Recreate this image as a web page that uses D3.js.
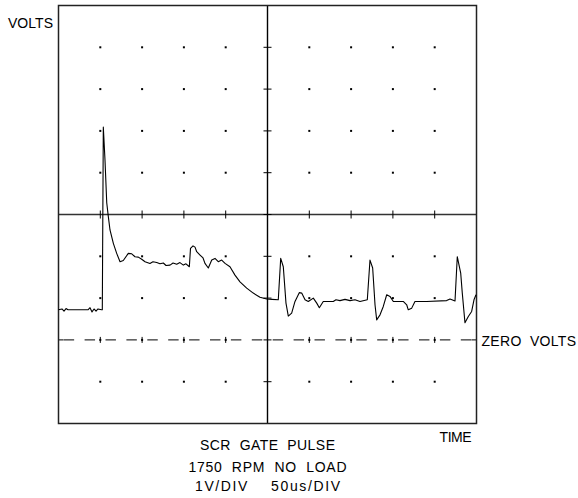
<!DOCTYPE html>
<html><head><meta charset="utf-8">
<script src="https://cdn.jsdelivr.net/npm/d3@7"></script>
<style>
html,body{margin:0;padding:0;background:#fff;}
svg{display:block;}
text{font-family:"Liberation Sans",Arial,sans-serif;fill:#000;white-space:pre;}
</style></head>
<body><svg id="c" width="578" height="498"></svg>
<script>
// Time in microseconds (50 us/div), volts (1 V/div)
const timeUs = [0,4.2,6.6,9.0,11.4,35.3,37.7,40.1,42.5,44.9,47.2,51.4,52.4,53.6,55.6,57.7,59.6,61.6,65.6,69.6,73.6,77.5,83.5,87.6,91.5,95.5,99.5,103.5,109.4,113.0,117.5,121.4,125.4,128.6,133.4,137.0,141.4,145.3,149.3,152.5,156.5,157.9,160.9,163.3,165.3,169.3,172.9,175.2,179.2,183.3,187.2,191.1,195.2,199.2,205.1,211.1,217.1,225.1,233.0,241.0,249.0,255.4,262.9,265.8,268.9,272.1,274.9,278.9,282.9,288.0,290.9,294.9,298.8,304.8,308.9,312.0,316.7,328.7,331.9,336.7,342.7,348.7,354.7,360.6,369.4,372.6,375.8,378.6,380.6,384.6,388.5,392.6,396.5,400.5,412.4,416.5,418.4,422.5,426.4,440.4,464.3,468.3,474.3,477.0,481.1,483.0,486.2,490.2,494.2,497.0,499.4];
const volts = [0.72,0.74,0.69,0.75,0.72,0.72,0.77,0.67,0.74,0.69,0.74,0.72,0.72,5.09,4.31,3.28,2.95,2.63,2.31,2.07,1.87,1.90,2.07,2.06,1.99,1.98,1.93,1.87,1.83,1.87,1.85,1.82,1.84,1.78,1.79,1.84,1.81,1.85,1.79,1.82,1.75,2.19,2.25,2.22,2.11,2.03,1.96,1.83,1.72,1.91,1.95,1.87,1.91,1.83,1.75,1.55,1.39,1.24,1.12,1.02,0.98,0.97,0.96,1.95,1.75,0.88,0.57,0.64,0.92,1.13,1.12,0.96,0.92,1.00,0.88,0.77,0.92,0.92,0.96,0.94,0.97,0.94,0.96,0.92,0.96,1.91,1.72,0.84,0.48,0.60,0.80,1.08,1.04,0.92,0.92,0.84,0.72,0.76,0.92,0.92,0.94,0.98,0.93,1.99,1.60,1.12,0.41,0.56,0.68,0.96,1.08];
const timeDivs = [0,50,100,150,200,250,300,350,400,450,500];
const voltDivs = [-2,-1,0,1,2,3,4,5,6,7,8];
const centerTime = 250, centerVolt = 3, zeroVolt = 0;
const yLabel = "VOLTS", xLabel = "TIME", zeroLabel = "ZERO  VOLTS";
const titleLines = ["SCR  GATE  PULSE","1750  RPM  NO  LOAD","1V/DIV    50us/DIV"];

const svg = d3.select("#c");
const x = d3.scaleLinear().domain([0,500]).range([58.5,476.5]);
const y = d3.scaleLinear().domain([-2,8]).range([423.5,5.5]);

// grid dots
const dots = [];
timeDivs.slice(1,-1).forEach(t=>{ if(t===centerTime) return;
  voltDivs.slice(1,-1).forEach(v=>{ if(v===centerVolt) return; dots.push([t,v]); });
});
svg.append("g").selectAll("rect").data(dots).join("rect")
  .attr("x",d=>x(d[0])-1).attr("y",d=>y(d[1])-1).attr("width",2).attr("height",2).attr("fill","#000");

// center lines
svg.append("line").attr("x1",x(0)).attr("x2",x(500)).attr("y1",y(centerVolt)).attr("y2",y(centerVolt))
  .attr("stroke","#333").attr("stroke-width",1.3);
svg.append("line").attr("x1",x(centerTime)).attr("x2",x(centerTime)).attr("y1",y(-2)).attr("y2",y(8))
  .attr("stroke","#000").attr("stroke-width",1.4);
// ticks on center lines
const tg = svg.append("g").attr("stroke","#000").attr("stroke-width",1);
timeDivs.slice(1,-1).forEach(t=>{
  tg.append("line").attr("x1",x(t)).attr("x2",x(t)).attr("y1",y(centerVolt)-4).attr("y2",y(centerVolt)+4);
  tg.append("line").attr("x1",x(t)).attr("x2",x(t)).attr("y1",y(zeroVolt)-3).attr("y2",y(zeroVolt)+3);
});
voltDivs.slice(1,-1).forEach(v=>{
  tg.append("line").attr("y1",y(v)).attr("y2",y(v)).attr("x1",x(centerTime)-4).attr("x2",x(centerTime)+4);
});
// zero volts dashed line
svg.append("line").attr("x1",x(0)).attr("x2",x(500)).attr("y1",y(zeroVolt)).attr("y2",y(zeroVolt))
  .attr("stroke","#000").attr("stroke-width",1).attr("stroke-dasharray","10.45 10.45").attr("stroke-dashoffset",-5.2);
tg.append("line").attr("x1",x(0)).attr("x2",x(0)+5).attr("y1",y(zeroVolt)).attr("y2",y(zeroVolt));
tg.append("line").attr("x1",x(500)-5).attr("x2",x(500)).attr("y1",y(zeroVolt)).attr("y2",y(zeroVolt));

// frame
svg.append("rect").attr("x",x(0)).attr("y",y(8)).attr("width",x(500)-x(0)).attr("height",y(-2)-y(8))
  .attr("fill","none").attr("stroke","#222").attr("stroke-width",1.5);

// trace
const line = d3.line().x((d,i)=>x(timeUs[i])).y((d,i)=>y(volts[i]));
svg.append("path").attr("d",line(volts)).attr("fill","none").attr("stroke","#000").attr("stroke-width",1.1)
  .attr("stroke-linejoin","round");

// labels
function txt(s,x0,yb,len,size){
  svg.append("text").attr("x",x0).attr("y",yb).attr("font-size",size||14)
    .attr("textLength",len).attr("lengthAdjust","spacing").text(s);
}
txt(yLabel,8,28.3,45);
txt(zeroLabel,481.5,345.7,94.5);
txt(xLabel,439.5,441.7,32.2);
txt(titleLines[0],200,450,135);
txt(titleLines[1],188.5,471.7,158);
txt(titleLines[2],195,490.7,145);
</script></body></html>
